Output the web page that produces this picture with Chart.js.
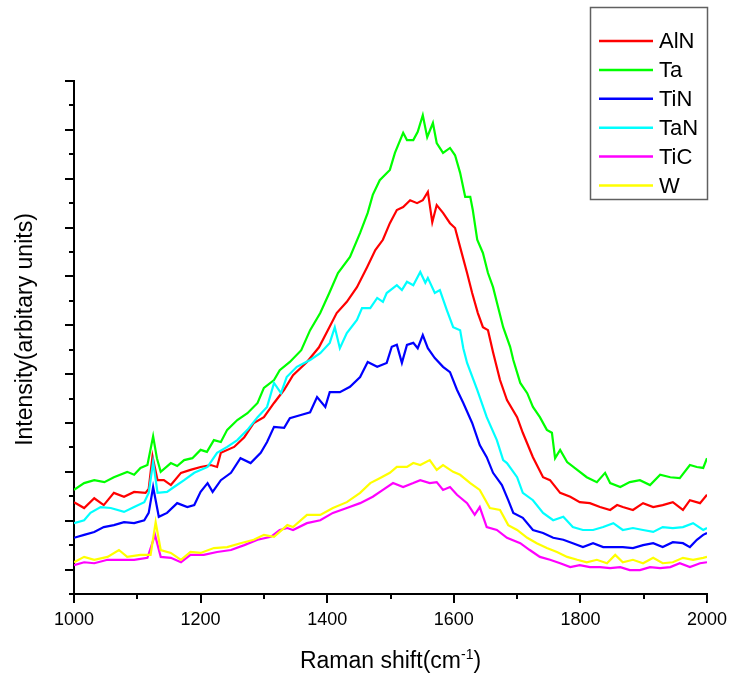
<!DOCTYPE html>
<html><head><meta charset="utf-8">
<script src="https://cdn.jsdelivr.net/npm/chart.js@4"></script>
<style>html,body{margin:0;padding:0;background:#fff;}canvas{display:block}</style>
</head><body>
<canvas id="c" width="729" height="675"></canvas>
<script>
const seriesNames = ['AlN', 'Ta', 'TiN', 'TaN', 'TiC', 'W'];
const seriesColors = ['#ff0000', '#00ff00', '#0000ff', '#00ffff', '#ff00ff', '#ffff00'];

const alnPoints = [[1000,1.88],[1016,1.76],[1032,1.96],[1047,1.82],[1063,2.07],[1079,1.99],[1095,2.09],[1113,2.07],[1118,2.15],[1124,2.82],[1132,2.33],[1142,2.33],[1153,2.23],[1169,2.48],[1184,2.54],[1200,2.60],[1216,2.64],[1226,2.60],[1232,2.89],[1253,3.01],[1269,3.21],[1284,3.50],[1300,3.62],[1316,3.91],[1332,4.18],[1346,4.48],[1368,4.75],[1387,5.05],[1401,5.40],[1415,5.75],[1431,5.98],[1447,6.28],[1463,6.69],[1476,7.04],[1488,7.25],[1499,7.59],[1510,7.86],[1520,7.92],[1531,8.06],[1542,8.00],[1551,8.06],[1559,8.23],[1566,7.61],[1573,7.96],[1583,7.80],[1594,7.59],[1602,7.49],[1610,7.10],[1621,6.57],[1629,6.16],[1638,5.75],[1646,5.46],[1654,5.40],[1662,4.95],[1673,4.38],[1684,3.97],[1700,3.62],[1709,3.30],[1725,2.80],[1741,2.39],[1752,2.33],[1768,2.07],[1784,1.99],[1799,1.88],[1815,1.86],[1831,1.78],[1847,1.72],[1858,1.82],[1867,1.78],[1883,1.72],[1899,1.86],[1915,1.78],[1930,1.82],[1946,1.88],[1962,1.72],[1973,1.92],[1989,1.86],[2000,2.03]];

const taPoints = [[1000,2.13],[1016,2.27],[1032,2.33],[1048,2.29],[1063,2.39],[1084,2.50],[1095,2.44],[1105,2.58],[1116,2.64],[1125,3.23],[1131,2.78],[1137,2.50],[1153,2.68],[1163,2.62],[1174,2.74],[1187,2.78],[1200,2.95],[1210,2.91],[1221,3.15],[1232,3.11],[1242,3.36],[1258,3.56],[1274,3.70],[1290,3.91],[1300,4.22],[1316,4.38],[1325,4.58],[1341,4.75],[1359,4.99],[1373,5.40],[1389,5.75],[1404,6.18],[1417,6.57],[1436,6.90],[1452,7.39],[1464,7.80],[1472,8.17],[1483,8.47],[1499,8.68],[1507,9.03],[1520,9.44],[1526,9.29],[1536,9.29],[1543,9.46],[1551,9.80],[1558,9.35],[1567,9.64],[1573,9.23],[1583,9.03],[1594,9.13],[1602,8.98],[1610,8.62],[1618,8.13],[1626,8.13],[1630,7.86],[1637,7.25],[1646,6.98],[1654,6.57],[1662,6.28],[1670,5.87],[1678,5.46],[1689,5.06],[1694,4.79],[1705,4.32],[1716,4.11],[1725,3.83],[1736,3.62],[1747,3.36],[1755,3.30],[1760,2.78],[1768,2.95],[1779,2.70],[1795,2.54],[1810,2.39],[1826,2.29],[1839,2.48],[1847,2.27],[1863,2.19],[1878,2.29],[1894,2.33],[1910,2.23],[1926,2.44],[1942,2.39],[1957,2.37],[1973,2.64],[1984,2.60],[1994,2.58],[2000,2.78]];

const tinPoints = [[1000,1.15],[1016,1.21],[1032,1.27],[1047,1.37],[1063,1.41],[1079,1.47],[1095,1.45],[1111,1.51],[1118,1.66],[1125,2.19],[1134,1.58],[1147,1.66],[1163,1.86],[1179,1.78],[1190,1.82],[1200,2.09],[1211,2.27],[1219,2.09],[1232,2.33],[1248,2.48],[1263,2.78],[1279,2.68],[1295,2.89],[1305,3.11],[1316,3.42],[1332,3.40],[1341,3.60],[1357,3.66],[1373,3.72],[1384,4.03],[1397,3.83],[1404,4.13],[1420,4.13],[1436,4.24],[1452,4.44],[1464,4.75],[1479,4.65],[1494,4.73],[1502,5.06],[1510,5.10],[1518,4.73],[1526,5.10],[1536,5.14],[1543,5.03],[1551,5.30],[1559,5.03],[1570,4.83],[1583,4.65],[1594,4.54],[1605,4.18],[1615,3.91],[1629,3.50],[1641,3.05],[1652,2.80],[1662,2.48],[1676,2.23],[1686,1.92],[1694,1.66],[1709,1.56],[1725,1.31],[1741,1.25],[1757,1.15],[1773,1.11],[1788,1.04],[1804,0.96],[1820,1.04],[1836,0.96],[1852,0.96],[1867,0.96],[1883,0.94],[1899,1.00],[1915,1.04],[1930,0.96],[1946,1.06],[1962,1.04],[1973,0.96],[1984,1.11],[1994,1.21],[2000,1.25]];

const tanPoints = [[1000,1.45],[1016,1.51],[1026,1.66],[1042,1.78],[1058,1.76],[1079,1.68],[1095,1.78],[1111,1.88],[1118,2.07],[1125,2.70],[1132,2.07],[1147,2.09],[1158,2.19],[1174,2.33],[1190,2.48],[1211,2.60],[1226,2.89],[1242,3.01],[1258,3.15],[1274,3.36],[1290,3.62],[1305,3.83],[1316,4.32],[1327,4.11],[1336,4.44],[1352,4.65],[1373,4.79],[1389,4.93],[1404,5.14],[1412,5.46],[1420,5.03],[1431,5.34],[1447,5.61],[1455,5.85],[1468,5.85],[1479,6.06],[1488,5.98],[1494,6.16],[1510,6.32],[1518,6.22],[1526,6.39],[1536,6.32],[1547,6.59],[1555,6.37],[1559,6.47],[1570,6.16],[1578,6.22],[1589,5.81],[1599,5.46],[1610,5.40],[1615,5.03],[1621,4.73],[1637,4.18],[1652,3.62],[1668,3.15],[1678,2.74],[1684,2.68],[1700,2.39],[1709,2.07],[1725,1.92],[1741,1.66],[1757,1.51],[1773,1.58],[1788,1.37],[1804,1.31],[1820,1.31],[1836,1.37],[1852,1.45],[1867,1.31],[1883,1.35],[1899,1.31],[1915,1.27],[1930,1.37],[1946,1.35],[1962,1.37],[1978,1.45],[1994,1.31],[2000,1.35]];

const ticPoints = [[1000,0.59],[1016,0.65],[1032,0.63],[1053,0.70],[1074,0.70],[1095,0.70],[1116,0.74],[1128,1.21],[1137,0.76],[1153,0.74],[1169,0.65],[1184,0.80],[1205,0.80],[1226,0.86],[1248,0.90],[1269,1.00],[1290,1.11],[1311,1.17],[1325,1.31],[1337,1.35],[1346,1.31],[1368,1.45],[1389,1.51],[1409,1.66],[1431,1.76],[1452,1.86],[1472,1.99],[1488,2.13],[1504,2.27],[1520,2.19],[1536,2.27],[1547,2.33],[1562,2.27],[1573,2.29],[1583,2.13],[1594,2.19],[1605,2.03],[1621,1.86],[1633,1.62],[1641,1.78],[1652,1.37],[1668,1.31],[1684,1.15],[1705,1.04],[1720,0.90],[1736,0.76],[1752,0.70],[1768,0.63],[1784,0.55],[1799,0.59],[1815,0.55],[1831,0.55],[1847,0.53],[1863,0.55],[1878,0.49],[1894,0.49],[1910,0.55],[1926,0.53],[1942,0.55],[1957,0.63],[1973,0.55],[1989,0.63],[2000,0.65]];

const wPoints = [[1000,0.65],[1016,0.76],[1032,0.70],[1053,0.76],[1071,0.90],[1084,0.76],[1105,0.80],[1121,0.80],[1129,1.47],[1137,0.90],[1153,0.84],[1169,0.70],[1184,0.86],[1200,0.84],[1221,0.94],[1242,0.96],[1263,1.04],[1284,1.11],[1300,1.21],[1316,1.17],[1337,1.41],[1346,1.37],[1368,1.62],[1389,1.62],[1409,1.76],[1431,1.88],[1452,2.07],[1468,2.27],[1483,2.37],[1499,2.48],[1510,2.60],[1526,2.60],[1536,2.68],[1547,2.64],[1562,2.74],[1573,2.54],[1583,2.64],[1599,2.50],[1610,2.44],[1626,2.27],[1641,2.13],[1657,1.76],[1673,1.72],[1686,1.41],[1700,1.31],[1716,1.15],[1731,1.04],[1747,0.94],[1763,0.86],[1779,0.76],[1795,0.70],[1810,0.65],[1826,0.70],[1842,0.63],[1855,0.80],[1867,0.65],[1883,0.70],[1899,0.63],[1915,0.74],[1930,0.63],[1946,0.65],[1962,0.74],[1978,0.70],[1994,0.74],[2000,0.76]];

const seriesPoints = [alnPoints, taPoints, tinPoints, tanPoints, ticPoints, wPoints];

const xMin = 1000, xMax = 2000, xLabelStep = 200, xMinorStep = 100;
const yMin = 0, yMax = 10.5, yMinorStep = 0.5;
const xTitleMain = 'Raman shift(cm', xTitleSup = '-1', xTitleEnd = ')';
const yTitle = 'Intensity(arbitary units)';

const FONT = "'Liberation Sans', Arial, sans-serif";

const overlay = {
  id: 'overlay',
  afterDraw(chart) {
    const ctx = chart.ctx, xs = chart.scales.x, ys = chart.scales.y;
    const ca = chart.chartArea;
    ctx.save();
    ctx.strokeStyle = '#000'; ctx.lineWidth = 2; ctx.lineCap = 'butt';
    for (let v = xMin; v <= xMax + 1e-9; v += xMinorStep) {
      const p = Math.round(xs.getPixelForValue(v));
      const len = ((v - xMin) % xLabelStep === 0) ? 9 : 5;
      ctx.beginPath(); ctx.moveTo(p, ca.bottom); ctx.lineTo(p, ca.bottom + len); ctx.stroke();
    }
    for (let k = 0; yMin + k * yMinorStep <= yMax + 1e-9; k++) {
      const v = yMin + k * yMinorStep;
      const p = Math.round(ys.getPixelForValue(v));
      const len = (k % 2 === 1) ? 9 : 5;
      ctx.beginPath(); ctx.moveTo(ca.left, p); ctx.lineTo(ca.left - len, p); ctx.stroke();
    }
    ctx.fillStyle = '#000';
    ctx.textBaseline = 'alphabetic';
    ctx.font = '23px ' + FONT;
    const w1 = ctx.measureText(xTitleMain).width;
    const w3 = ctx.measureText(xTitleEnd).width;
    ctx.font = '14px ' + FONT;
    const w2 = ctx.measureText(xTitleSup).width;
    const cx = (ca.left + ca.right) / 2;
    let tx = cx - (w1 + w2 + w3) / 2;
    const base = 668;
    ctx.textAlign = 'left';
    ctx.font = '23px ' + FONT; ctx.fillText(xTitleMain, tx, base); tx += w1;
    ctx.font = '14px ' + FONT; ctx.fillText(xTitleSup, tx, base - 9); tx += w2;
    ctx.font = '23px ' + FONT; ctx.fillText(xTitleEnd, tx, base);
    ctx.save();
    ctx.translate(32, 329.5);
    ctx.rotate(-Math.PI / 2);
    ctx.textAlign = 'center';
    ctx.font = '23px ' + FONT;
    ctx.fillText(yTitle, 0, 0);
    ctx.restore();
    ctx.fillStyle = '#fff';
    ctx.fillRect(590, 7, 117, 192);
    ctx.strokeStyle = '#606060'; ctx.lineWidth = 1.5;
    ctx.strokeRect(590.5, 7.5, 117, 192);
    ctx.font = '22px ' + FONT; ctx.textAlign = 'left'; ctx.textBaseline = 'middle';
    seriesNames.forEach((n, i) => {
      const ly = 41 + i * 28.9;
      ctx.strokeStyle = seriesColors[i]; ctx.lineWidth = 2.5;
      ctx.beginPath(); ctx.moveTo(599, ly); ctx.lineTo(653, ly); ctx.stroke();
      ctx.fillStyle = '#000';
      ctx.fillText(n, 659, ly + 1);
    });
    ctx.restore();
  }
};

new Chart(document.getElementById('c'), {
  type: 'line',
  data: {
    datasets: seriesNames.map((n, i) => ({
      label: n,
      data: seriesPoints[i].map(p => ({x: p[0], y: p[1]})),
      borderColor: seriesColors[i],
      backgroundColor: seriesColors[i],
      borderWidth: 2.2,
      pointRadius: 0,
      tension: 0,
      fill: false,
      order: seriesNames.length - i
    }))
  },
  options: {
    responsive: false,
    animation: false,
    devicePixelRatio: 1,
    layout: { padding: { top: 81, right: 22, left: 0, bottom: 0 } },
    plugins: { legend: { display: false }, tooltip: { enabled: false } },
    scales: {
      x: {
        type: 'linear', min: xMin, max: xMax,
        afterFit: s => { s.height = 81; s.paddingLeft = 0; s.paddingRight = 0; },
        grid: { display: false, drawTicks: false },
        border: { display: true, color: '#000', width: 2 },
        ticks: { stepSize: xLabelStep, padding: 15, color: '#000', font: { size: 18, family: FONT },
                 callback: v => String(v), maxRotation: 0 }
      },
      y: {
        type: 'linear', min: yMin, max: yMax,
        afterFit: s => { s.width = 74; s.paddingTop = 0; s.paddingBottom = 0; },
        grid: { display: false, drawTicks: false },
        border: { display: true, color: '#000', width: 2 },
        ticks: { display: false }
      }
    }
  },
  plugins: [overlay]
});
</script>
</body></html>
